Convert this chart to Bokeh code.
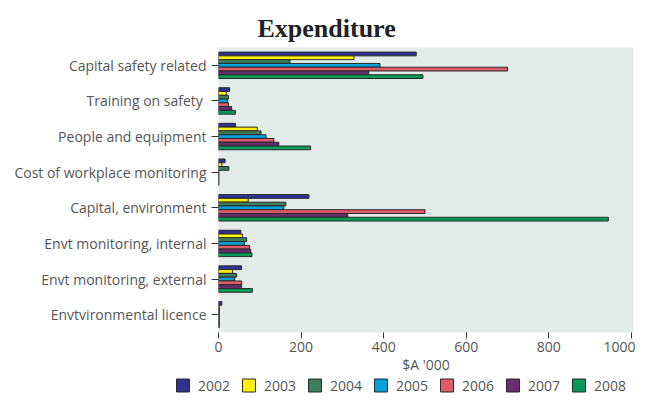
from bokeh.plotting import figure
from bokeh.models import ColumnDataSource, FactorRange, Range1d
from bokeh.layouts import column, row
from bokeh.transform import dodge
from bokeh.core.properties import value
from bokeh.embed import file_html
from bokeh.resources import INLINE

categories = ["Capital safety related", "Training on safety ", "People and equipment",
              "Cost of workplace monitoring", "Capital, environment",
              "Envt monitoring, internal", "Envt monitoring, external",
              "Envtvironmental licence"]
years = ["2002", "2003", "2004", "2005", "2006", "2007", "2008"]
v2002 = [479, 27, 41, 16, 219, 54, 56, 8]
v2003 = [328, 19, 94, 8, 72, 58, 34, 2]
v2004 = [173, 24, 103, 25, 163, 68, 44, 2]
v2005 = [391, 22, 115, 1, 158, 63, 39, 2]
v2006 = [700, 24, 134, 1, 500, 75, 56, 2]
v2007 = [364, 32, 146, 1, 313, 78, 56, 2]
v2008 = [495, 41, 223, 1, 944, 81, 82, 2]
colors = ["#2e3192", "#fff200", "#3d7f5a", "#00a3dc", "#e05a6a", "#662d6e", "#009a5a"]
series = [v2002, v2003, v2004, v2005, v2006, v2007, v2008]
x_ticks = [0, 200, 400, 600, 800, 1000]

data = {"cat": categories}
for y, s in zip(years, series):
    data["y" + y] = s
src = ColumnDataSource(data)

p = figure(width=635, height=376, output_backend="svg", toolbar_location=None,
           y_range=FactorRange(factors=list(reversed(categories))),
           x_range=Range1d(0, 1005),
           min_border_left=218, min_border_right=2, min_border_top=47, min_border_bottom=0)

p.title.text = "Expenditure"
p.title.text_font = "Liberation Serif"
p.title.text_font_size = "26px"
p.title.text_font_style = "bold"
p.title.text_color = "#222222"
p.title.align = "left"
p.title.offset = 39

p.background_fill_color = "#e3ece8"
p.outline_line_color = None
p.xgrid.grid_line_color = None
p.ygrid.grid_line_color = None

bh = 0.106
for i, (yr, col) in enumerate(zip(years, colors)):
    off = (3 - i) * bh
    p.hbar(y=dodge("cat", off, range=p.y_range), left=0, right="y" + yr,
           height=bh, source=src, fill_color=col, line_color="#2a2a2a", line_width=1)

for ax in (p.xaxis[0], p.yaxis[0]):
    ax.axis_line_color = None
    ax.major_tick_line_color = "#333333"
    ax.minor_tick_line_color = None
    ax.major_label_text_font = "Open Sans"
    ax.major_label_text_font_size = "14px"
    ax.major_label_text_color = "#555555"
    ax.major_tick_in = 0

p.yaxis.major_tick_out = 7
p.yaxis.major_label_standoff = 5
p.xaxis.major_tick_out = 6
p.xaxis.major_label_standoff = 3
p.xaxis.ticker = x_ticks
p.xaxis.axis_label = "$A '000"
p.xaxis.axis_label_text_font = "Open Sans"
p.xaxis.axis_label_text_font_size = "14px"
p.xaxis.axis_label_text_font_style = "normal"
p.xaxis.axis_label_text_color = "#555555"
p.xaxis.axis_label_standoff = 0

# legend strip: one swatch + label per year, positioned by item index
leg_src = ColumnDataSource(dict(idx=list(range(len(years))), label=years, color=colors))
lg = figure(width=635, height=18, output_backend="svg", toolbar_location=None,
            x_axis_type=None, y_axis_type=None,
            x_range=Range1d(-2.765, 6.856), y_range=Range1d(0, 1), min_border=0,
            min_border_left=0, min_border_right=0, min_border_top=0, min_border_bottom=0)
lg.outline_line_color = None
lg.xgrid.grid_line_color = None
lg.ygrid.grid_line_color = None
lg.rect(x="idx", y=0.5, width=13, height=13, width_units="screen", height_units="screen",
        source=leg_src, fill_color="color", line_color="#2a2a2a", line_width=1)
lg.text(x="idx", y=0.5, text="label", x_offset=15, source=leg_src,
        text_font=value("Open Sans"), text_font_size="14px", text_color="#555555",
        text_baseline="middle", text_align="left")

layout = column(p, row(lg, spacing=0), spacing=0)
open("out.html", "w").write(file_html(layout, INLINE))
